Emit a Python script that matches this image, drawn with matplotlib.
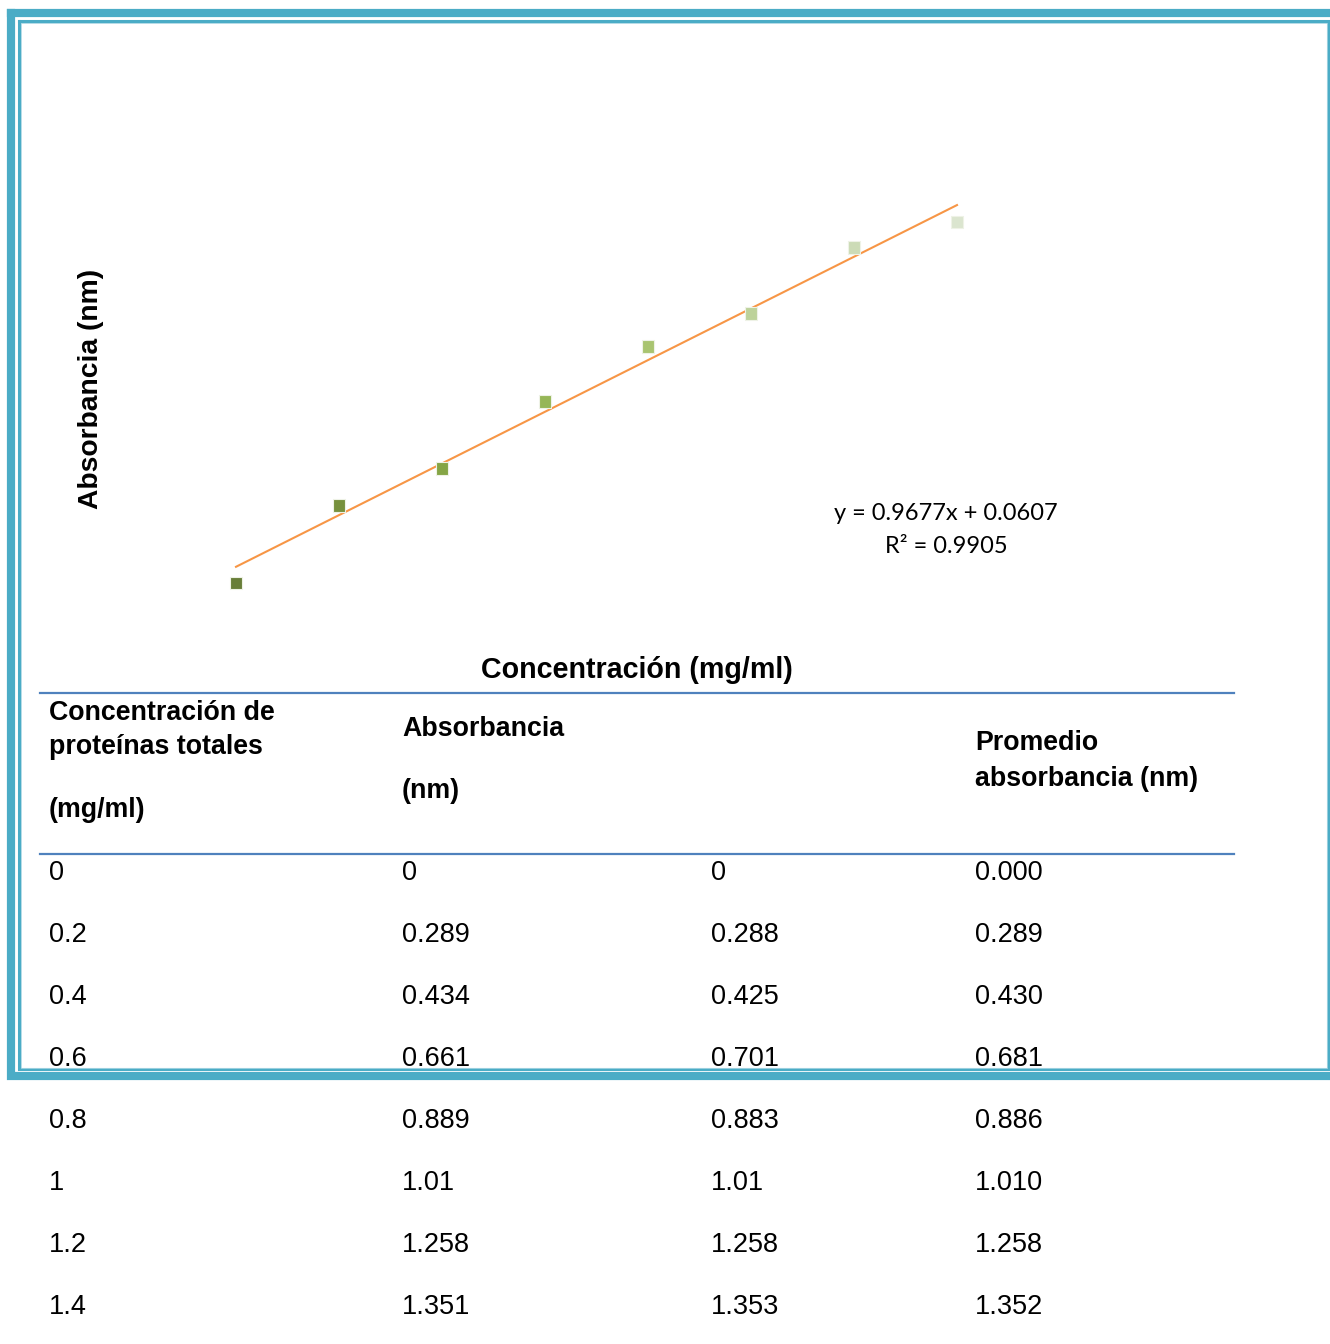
import matplotlib
matplotlib.use("Agg")
import matplotlib.pyplot as plt
from matplotlib.lines import Line2D

# Calibration data: protein concentration vs absorbance
concentracion = [0, 0.2, 0.4, 0.6, 0.8, 1.0, 1.2, 1.4]
absorbancia_1 = [0, 0.289, 0.434, 0.661, 0.889, 1.01, 1.258, 1.351]
absorbancia_2 = [0, 0.288, 0.425, 0.701, 0.883, 1.01, 1.258, 1.353]
promedio = [0.000, 0.289, 0.430, 0.681, 0.886, 1.010, 1.258, 1.352]

# Linear fit reported for the averages
pendiente = 0.9677
intercepto = 0.0607
r2 = 0.9905

colores_marcador = ["#687e38", "#77913d", "#85a545", "#96b657",
                    "#a9c470", "#bdd29a", "#ccdbb6", "#dbe5cf"]

W, H = 1330, 1344
fig = plt.figure(figsize=(W / 100, H / 100), dpi=100)
fig.patch.set_facecolor("white")

TEXT_SHIFT = 2.5  # vertical nudge so text baselines sit on the row lines


def fx(px):
    return px / W


def fy(py):
    return 1 - py / H


def fyt(py):
    return 1 - (py + TEXT_SHIFT) / H


SANS = ["Liberation Sans", "DejaVu Sans"]
TEAL = "#4bacc6"

# Page frame (double border)
fig.add_artist(Line2D([fx(11), fx(11), fx(1345), fx(1345), fx(11)],
                      [fy(13), fy(1076), fy(1076), fy(13), fy(13)],
                      color=TEAL, lw=5.9, solid_joinstyle="miter", zorder=1))
fig.add_artist(Line2D([fx(19), fx(19), fx(1328), fx(1328), fx(19)],
                      [fy(21), fy(1069), fy(1069), fy(21), fy(21)],
                      color=TEAL, lw=2.2, solid_joinstyle="miter", zorder=1))
fig.add_artist(Line2D([fx(20.5), fx(20.5), fx(1326.5), fx(1326.5), fx(20.5)],
                      [fy(22.5), fy(1067.5), fy(1067.5), fy(22.5), fy(22.5)],
                      color="#a9d6e3", lw=0.6, solid_joinstyle="miter", zorder=1))

# Chart area
xmin, xmax = -0.2, 1.6
ymin, ymax = -0.3, 1.6
x0px, xscale = 236, 515
y0px, yscale = 583, 267
left = x0px + xmin * xscale
right = x0px + xmax * xscale
top = y0px - ymax * yscale
bottom = y0px - ymin * yscale
ax = fig.add_axes([fx(left), fy(bottom), fx(right - left), (bottom - top) / H])
ax.set_xlim(xmin, xmax)
ax.set_ylim(ymin, ymax)
ax.axis("off")

ax.scatter(concentracion, promedio, marker="s", s=85, c=colores_marcador,
           edgecolors="#eef2e6", linewidths=0.8, zorder=3)
xs = [concentracion[0], concentracion[-1]]
ax.plot(xs, [pendiente * x + intercepto for x in xs], color="#f79646",
        lw=1.5, zorder=2)

eq_font = ["Lato", "DejaVu Sans"]
fig.text(fx(946), fyt(511), f"y = {pendiente}x + {intercepto}", ha="center",
         va="center", fontsize=17, family=eq_font)
fig.text(fx(946), fyt(544), f"R² = {r2}", ha="center", va="center",
         fontsize=17, family=eq_font)

fig.text(fx(91), fy(389), "Absorbancia (nm)", rotation=90, ha="center",
         va="center", fontsize=20.3, fontweight="bold", family=SANS)
fig.text(fx(637), fyt(667), "Concentración (mg/ml)", ha="center",
         va="center", fontsize=20.6, fontweight="bold", family=SANS)

# Data table
BLUE = "#4f81bd"
for yline in (693, 854):
    fig.add_artist(Line2D([fx(40), fx(1234)], [fy(yline), fy(yline)],
                          color=BLUE, lw=1.6, zorder=2))

col_x = [49, 402, 711, 975]
header_lines = [
    (col_x[0], 710, "Concentración de"),
    (col_x[0], 745, "proteínas totales"),
    (col_x[0], 807, "(mg/ml)"),
    (col_x[1], 727, "Absorbancia"),
    (col_x[1], 789, "(nm)"),
    (col_x[3], 741, "Promedio"),
    (col_x[3], 776, "absorbancia (nm)"),
]
for x, y, t in header_lines:
    fig.text(fx(x), fyt(y), t, ha="left", va="center", fontsize=19.3,
             fontweight="bold", family=SANS, zorder=3)

row_y = [870, 932, 995, 1057, 1118, 1180, 1242, 1305]
for i, y in enumerate(row_y):
    cells = [f"{concentracion[i]:g}", f"{absorbancia_1[i]:g}",
             f"{absorbancia_2[i]:g}", f"{promedio[i]:.3f}"]
    for x, t in zip(col_x, cells):
        fig.text(fx(x), fyt(y), t, ha="left", va="center", fontsize=19.5,
                 family=SANS, zorder=3)

fig.savefig("out.png", dpi=100, facecolor="white")
